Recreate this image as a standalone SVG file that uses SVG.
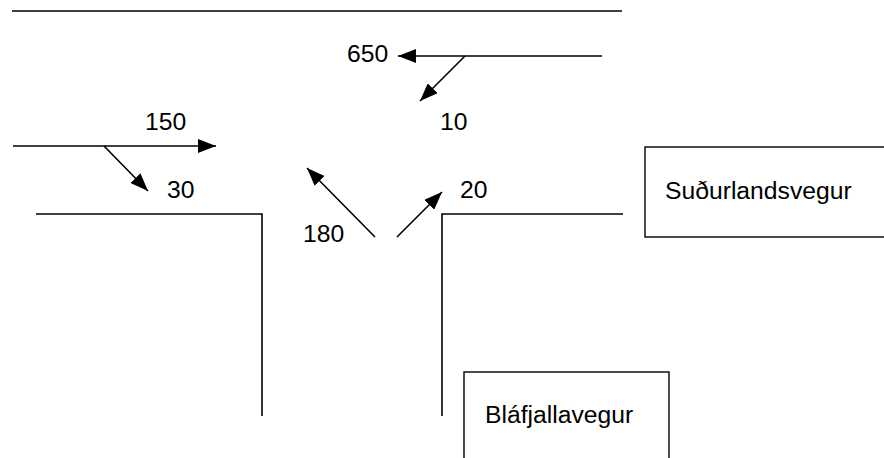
<svg xmlns="http://www.w3.org/2000/svg" width="884" height="458" viewBox="0 0 884 458">
<defs>
<style>
.ln{stroke:#000;stroke-width:1.6;fill:none}
.ar{stroke:#000;stroke-width:1.6;fill:none;marker-end:url(#ah)}
.bx{stroke:#000;stroke-width:1.4;fill:#fff}
.t{font-family:"Liberation Sans",Arial,sans-serif;font-size:24.7px;fill:#000}
</style>
<marker id="ah" markerUnits="userSpaceOnUse" markerWidth="20" markerHeight="14" refX="18" refY="7" orient="auto">
<path d="M0,0 L18,7 L0,14 Z" fill="#000"/>
</marker>
</defs>
<g id="roads">
<line class="ln" x1="12" y1="11" x2="622" y2="11"/>
<polyline class="ln" points="36,214 262,214 262,416"/>
<polyline class="ln" points="442,416 442,214 623,214"/>
</g>
<g id="connectors">
<line class="ar" x1="602" y1="56" x2="398" y2="56"/>
<line class="ar" x1="465" y1="56" x2="420" y2="101"/>
<line class="ar" x1="13" y1="146" x2="216" y2="146"/>
<line class="ar" x1="104" y1="146" x2="148" y2="191"/>
<line class="ar" x1="375" y1="237" x2="307" y2="168"/>
<line class="ar" x1="397" y1="237" x2="442" y2="192"/>
</g>
<g id="labels">
<text class="t" x="347" y="62">650</text>
<text class="t" x="440" y="130">10</text>
<text class="t" x="145" y="130">150</text>
<text class="t" x="167" y="198">30</text>
<text class="t" x="303" y="242">180</text>
<text class="t" x="460" y="198">20</text>
</g>
<g id="node-sudurlandsvegur">
<rect class="bx" x="645" y="147" width="250" height="90"/>
<text class="t" x="665" y="199">Suðurlandsvegur</text>
</g>
<g id="node-blafjallavegur">
<rect class="bx" x="464" y="372" width="205" height="100"/>
<text class="t" x="485" y="423">Bláfjallavegur</text>
</g>
</svg>
